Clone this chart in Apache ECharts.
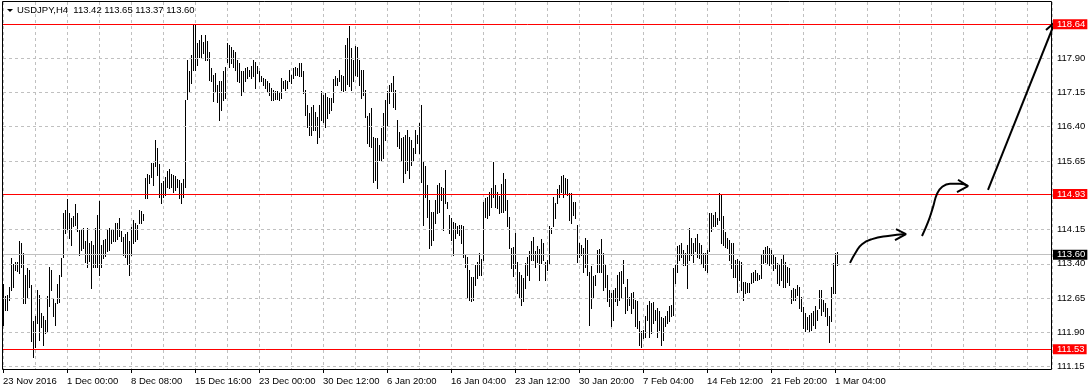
<!DOCTYPE html>
<html><head><meta charset="utf-8">
<script src="https://cdn.jsdelivr.net/npm/echarts@6/dist/echarts.min.js"></script>
<style>html,body{margin:0;padding:0;background:#fff}#c{width:1091px;height:390px}</style>
</head><body><div id="c"></div>
<script>
// ---- data (H4 bars) ----
const symbolName = 'USDJPY';
const timeframe = 'H4';
const lastBar = [113.42, 113.65, 113.37, 113.60]; // O H L C of the last bar
const highs = [
112.95,112.70,112.72,112.89,113.52,113.40,113.43,113.43,113.89,113.85,
113.63,113.16,113.30,113.27,112.94,112.14,112.25,112.82,112.72,112.32,
112.25,112.17,112.70,113.33,113.27,112.65,112.55,112.95,113.16,113.52,
114.52,114.58,114.81,114.52,114.40,114.45,114.70,114.51,114.14,114.16,
114.18,113.89,114.18,113.86,113.89,113.81,114.18,114.47,114.78,113.81,
113.92,113.94,114.16,114.18,114.14,114.13,114.29,114.30,114.40,114.11,
113.98,114.05,114.10,113.90,114.20,
114.36,114.29,114.25,114.57,114.56,114.48,115.27,115.37,115.35,115.60,
115.60,116.11,115.93,115.59,115.16,115.22,115.31,115.42,115.47,115.37,
115.35,115.32,115.25,115.24,115.16,115.25,116.99,117.86,117.61,117.96,
118.63,118.63,118.23,118.30,118.41,118.26,118.41,118.28,118.04,117.68,
117.53,117.57,117.31,117.39,117.39,117.61,117.71,118.23,118.19,118.15,
118.08,118.04,117.86,117.79,117.61,
117.61,117.68,117.71,117.64,117.73,117.86,117.82,117.73,117.61,117.50,
117.46,117.44,117.39,117.35,117.24,117.21,117.19,117.17,117.15,117.46,
117.41,117.42,117.39,117.64,117.53,117.68,117.71,117.68,117.80,117.79,
117.61,117.21,116.88,116.69,116.84,116.88,116.73,116.62,116.88,117.17,
117.10,117.13,117.06,117.02,117.02,117.44,117.50,117.46,117.64,117.53,
117.50,118.19,118.34,118.60,118.12,117.86,118.17,118.15,117.86,117.64,
117.64,117.21,116.64,116.71,116.80,116.18,116.15,116.15,116.00,116.37,
116.69,116.99,117.17,117.31,117.35,117.51,117.21,116.55,116.29,116.15,
116.18,116.22,116.33,116.18,116.11,115.93,116.33,116.22,116.48,116.88,
115.64,115.53,115.13,114.80,114.54,114.54,114.80,115.13,115.16,115.09,
115.05,115.46,114.76,114.47,114.40,114.32,114.29,114.22,114.25,114.25,
114.22,113.59,113.56,113.27,113.12,113.11,113.38,113.43,113.63,
113.50,114.76,114.84,114.86,114.98,115.05,115.62,115.13,114.98,114.89,
115.15,115.38,115.25,114.80,114.42,113.74,113.76,114.07,113.45,113.23,
113.16,113.08,113.41,113.56,113.67,113.91,113.98,113.67,113.79,113.72,
113.94,113.85,113.45,113.49,114.22,114.18,114.87,114.74,115.03,115.13,
115.32,115.35,115.27,115.25,114.94,114.94,114.76,114.76,114.25,113.85,
113.81,113.74,113.96,113.92,113.23,113.36,113.14,113.16,113.71,113.72,
113.94,
113.63,113.38,113.16,112.83,112.76,112.83,112.87,113.16,113.22,113.25,
113.49,112.90,113.07,112.68,112.76,112.79,112.61,112.58,112.14,111.92,
111.96,112.25,112.50,112.59,112.54,112.56,112.39,112.43,112.37,112.23,
112.21,112.25,112.36,112.47,112.49,113.30,113.38,113.78,113.81,113.85,
113.71,113.63,113.81,114.18,113.96,113.85,113.96,114.05,113.85,113.81,
113.63,113.63,113.71,114.51,114.51,114.47,114.54,114.40,114.94,114.91,
114.45,114.10,113.96,113.92,113.85,113.85,113.49,113.50,113.47,113.45,
113.01,113.01,112.98,112.99,113.19,113.23,113.27,113.19,113.16,113.60,
113.70,113.76,113.78,113.74,113.70,113.60,113.56,113.41,113.38,113.50,
113.62,113.45,113.33,113.30,112.83,112.87,112.84,112.94,112.89,112.68,
112.45,112.32,112.23,112.28,112.32,112.36,112.48,112.39,112.83,112.83,
112.61,112.54,112.43,112.25,112.89,113.41,113.63,113.65
];
const lows = [
112.06,112.38,112.39,112.61,112.83,112.90,113.27,113.25,113.19,113.33,
112.55,112.55,112.68,112.90,111.72,111.36,111.59,112.10,111.73,112.01,
111.62,111.88,111.90,112.47,112.83,112.25,112.06,112.54,112.57,113.14,
113.56,114.07,114.16,113.96,113.81,114.23,114.25,114.11,113.60,113.70,
113.74,113.45,113.33,113.47,112.87,113.33,113.33,113.34,113.16,113.34,
113.52,113.57,113.67,113.70,113.85,113.91,113.89,113.94,114.00,113.89,
113.60,113.55,113.40,113.15,113.60,
113.85,113.90,113.95,114.29,114.29,114.36,114.84,114.84,115.16,115.31,
115.13,115.53,115.35,114.87,114.73,114.87,114.91,115.09,115.05,115.08,
114.98,115.02,115.09,114.84,114.74,114.87,115.09,117.00,117.17,117.35,
117.64,117.63,117.75,117.93,117.90,118.02,117.86,117.86,117.42,117.39,
116.97,117.17,116.95,116.55,116.77,116.99,117.02,117.82,117.71,117.79,
117.71,117.64,117.39,117.37,117.10,
117.17,117.39,117.46,117.50,117.46,117.50,117.24,117.57,117.39,117.39,
117.31,117.24,117.17,117.10,116.99,116.99,117.00,117.00,116.99,117.02,
117.24,117.20,117.24,117.39,117.35,117.46,117.53,117.53,117.50,117.50,
117.13,116.66,116.40,116.22,116.22,116.33,116.33,116.04,116.18,116.55,
116.51,116.40,116.59,116.69,116.77,116.95,117.31,117.31,117.39,117.21,
117.19,117.21,117.34,117.28,117.21,117.39,117.53,117.50,117.31,117.02,
117.10,116.62,116.05,115.98,115.95,115.20,115.24,115.05,115.67,115.67,
115.71,116.11,116.44,116.91,117.17,116.84,116.78,115.97,115.93,115.67,
115.18,115.38,115.46,115.27,115.56,115.67,115.82,116.04,115.82,115.20,
114.25,114.87,114.43,113.74,113.81,113.92,114.29,114.51,114.54,114.80,
114.14,114.73,114.62,114.07,113.92,113.59,113.96,114.07,114.03,113.85,
113.56,113.34,112.68,112.61,112.58,112.61,112.94,113.09,113.16,
113.16,113.49,114.43,114.40,114.47,114.65,114.87,114.65,114.62,114.51,
114.54,114.54,114.58,114.22,113.74,113.30,113.14,113.30,112.76,112.68,
112.50,112.58,112.87,113.16,113.05,113.49,113.49,113.34,113.45,113.05,
113.41,113.49,113.05,113.27,113.41,114.07,114.22,114.40,114.73,114.87,
114.98,114.87,114.94,114.91,114.36,114.29,114.47,114.40,113.43,113.56,
113.60,113.23,113.34,113.16,112.06,112.43,112.65,112.94,113.23,113.23,
113.23,
112.83,112.90,112.58,112.47,112.03,112.17,112.58,112.50,112.61,112.65,
112.98,112.32,112.39,112.50,112.32,112.43,112.03,111.99,111.63,111.59,
111.77,111.81,112.17,111.81,111.88,112.10,112.17,111.81,111.96,111.63,
111.74,112.03,112.10,112.14,112.25,112.28,112.98,113.23,113.49,113.56,
113.38,113.38,112.87,113.49,113.60,113.45,113.67,113.56,113.52,113.41,
113.32,113.27,113.23,113.67,114.11,114.22,114.22,114.27,114.36,113.85,
113.81,113.76,113.74,113.49,113.30,113.12,113.12,112.79,113.05,112.83,
112.61,112.76,112.79,112.79,112.98,113.01,113.05,113.05,113.06,113.08,
113.41,113.45,113.41,113.38,113.41,113.27,113.30,112.98,112.94,113.05,
112.90,112.90,113.01,112.94,112.54,112.60,112.60,112.72,112.43,112.36,
111.99,111.92,111.97,111.90,111.95,112.06,111.99,112.17,112.43,112.28,
112.36,112.25,112.06,111.68,112.14,112.76,112.76,113.37
];
// time labels: one every 32 bars
const labelBars = [0,32,64,96,128,160,192,224,256,288,320,352,384,416];
const dateLabels = ['23 Nov 2016','1 Dec 00:00','8 Dec 08:00','15 Dec 16:00','23 Dec 00:00','30 Dec 12:00','6 Jan 20:00','16 Jan 04:00','23 Jan 12:00','30 Jan 20:00','7 Feb 04:00','14 Feb 12:00','21 Feb 20:00','1 Mar 04:00'];
const priceTicks = [111.15,111.90,112.65,113.40,114.15,115.65,116.40,117.15,117.90];
const levels = [118.64, 114.93, 111.53];
// hand-drawn arrows, in (bar index, price)
const arrow1 = [[423.5,113.42],[426.5,113.66],[429.5,113.83],[434.5,113.94],[442.5,114.01],[451.5,114.05]];
const arrow1Head = [[446.5,114.16],[451.5,114.05],[446,113.92]];
const arrow2 = [[459.5,114.01],[462.5,114.31],[465,114.64],[467,114.93],[469.5,115.08],[473.5,115.15],[478.5,115.15],[482.5,115.10]];
const arrow2Head = [[477.5,115.24],[482.5,115.10],[477,114.97]];
const arrow3 = [[492.5,115.02],[526,118.69]];
const arrow3Head = [[521.5,118.515],[526,118.69],[526.5,118.428]];

const FONT = 'Liberation Sans';
const chart = echarts.init(document.getElementById('c'), null, {renderer:'canvas'});
const barData = highs.map((h, i) => [i, h, lows[i]]);
const close = lastBar[3];

function arrowSeries(data, smooth){
  return {type:'line', data:data, smooth:smooth, symbol:'none', clip:false, silent:true, z:10,
    lineStyle:{color:'#000', width:2}, animation:false};
}

chart.setOption({
  animation:false,
  backgroundColor:'#fff',
  title:{text: symbolName + ',' + timeframe + '  ' + lastBar.map(v=>v.toFixed(2)).join(' '),
    left:17, top:5, padding:0,
    textStyle:{fontSize:9.5, fontWeight:'normal', fontFamily:FONT, color:'#000'}},
  grid:{left:3, right:39, top:2, bottom:21, containLabel:false},
  xAxis:[
    {type:'value', min:0, max:524.5, interval:16,
      axisLine:{show:false}, axisTick:{show:false}, axisLabel:{show:false},
      splitLine:{show:true, lineStyle:{color:'#c0c0c0', type:[3,3], width:1}}},
    {type:'value', min:0, max:524.5, position:'bottom',
      axisLine:{show:false},
      axisTick:{show:true, customValues:labelBars, length:4, lineStyle:{color:'#000'}},
      axisLabel:{show:true, customValues:labelBars, align:'left', margin:7,
        color:'#000', fontSize:9.5, fontFamily:FONT, showMinLabel:true, showMaxLabel:true,
        formatter:v => { const k = labelBars.indexOf(Math.round(v)); return k >= 0 ? dateLabels[k] : ''; }},
      splitLine:{show:false}}
  ],
  yAxis:{type:'value', position:'right', min:111.099, max:119.128,
    axisLine:{show:false}, splitLine:{show:false},
    axisTick:{show:true, customValues:priceTicks, length:3, lineStyle:{color:'#000'}},
    axisLabel:{customValues:priceTicks, margin:5, color:'#000', fontSize:9.5, fontFamily:FONT,
      formatter:v => v.toFixed(2)}},
  graphic:[
    {type:'rect', silent:true, z:100, shape:{x:2.5, y:1.5, width:1049, height:368},
      style:{fill:null, stroke:'#000', lineWidth:1}},
    {type:'polygon', silent:true, z:100, shape:{points:[[7,9],[13,9],[10,12]]}, style:{fill:'#000'}}
  ],
  series:[
    {type:'line', data:[], silent:true, z:1,
      markLine:{silent:true, symbol:['none','none'], animation:false,
        label:{show:false},
        lineStyle:{color:'#c0c0c0', type:[3,3], width:1},
        data: priceTicks.map(v => ({yAxis:v}))}},
    {type:'custom', name:'bars', xAxisIndex:0, yAxisIndex:0, silent:true, z:3,
      data:barData, encode:{x:0, y:[1,2]},
      renderItem:(params, api) => {
        const p1 = api.coord([api.value(0), api.value(1)]);
        const p2 = api.coord([api.value(0), api.value(2)]);
        const x = Math.round(p1[0]) + 0.5;
        return {type:'line', shape:{x1:x, y1:Math.round(p1[1]), x2:x, y2:Math.round(p2[1]) + 1},
          style:{stroke:'#000', lineWidth:1}};
      }},
    {type:'line', data:[], silent:true, z:5,
      markLine:{silent:true, symbol:['none','none'], animation:false,
        data:[
          {yAxis:close, lineStyle:{color:'#c0c0c0', type:'solid', width:1},
            label:{show:true, position:'end', distance:1, formatter:close.toFixed(2), color:'#fff',
              backgroundColor:'#000', padding:[1,2,0,4], lineHeight:9, fontSize:9.5, fontFamily:FONT}}
        ].concat(levels.map(v => ({yAxis:v, lineStyle:{color:'#ff0000', type:'solid', width:1},
            label:{show:true, position:'end', distance:1, formatter:v.toFixed(2), color:'#fff',
              backgroundColor:'#ff0000', padding:[1,2,0,4], lineHeight:9, fontSize:9.5, fontFamily:FONT}})))
      }},
    arrowSeries(arrow1, 0.5), arrowSeries(arrow1Head, false),
    arrowSeries(arrow2, 0.5), arrowSeries(arrow2Head, false),
    arrowSeries(arrow3, false), arrowSeries(arrow3Head, false)
  ]
});
</script>
</body></html>
